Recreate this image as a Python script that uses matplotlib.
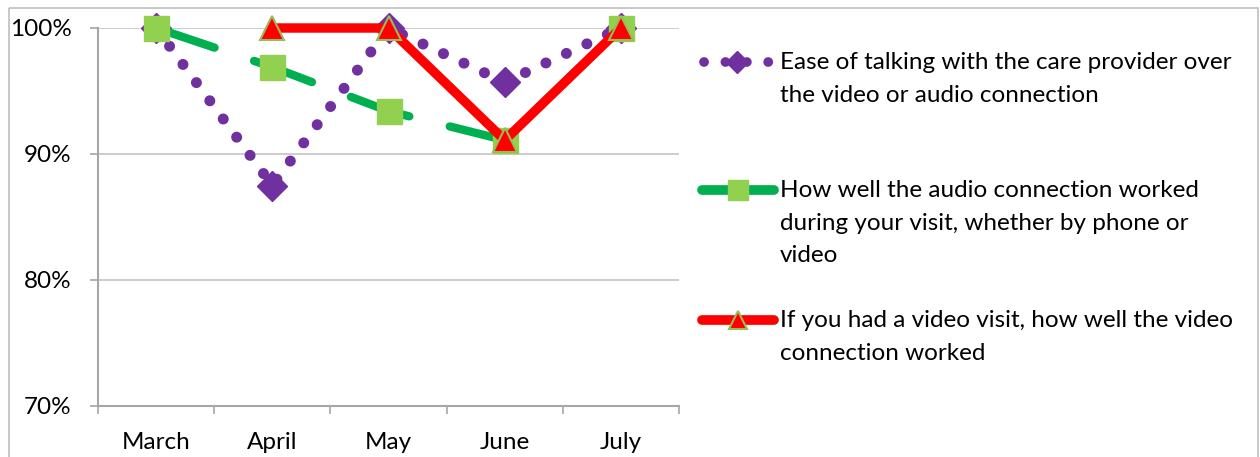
import matplotlib.pyplot as plt
from matplotlib.patches import Rectangle
from matplotlib.ticker import FixedLocator, PercentFormatter

plt.rcParams['font.family'] = ['Lato', 'DejaVu Sans']

months = ["March", "April", "May", "June", "July"]
ease = [1.00, 0.875, 1.00, 0.957, 1.00]
audio = [1.00, 0.969, 0.934, 0.911, 1.00]
video = [None, 1.00, 1.00, 0.911, 1.00]

labels = [
    "Ease of talking with the care provider over\nthe video or audio connection",
    "How well the audio connection worked\nduring your visit, whether by phone or\nvideo",
    "If you had a video visit, how well the video\nconnection worked",
]

purple = "#7030A0"
green_line = "#00B050"
green_mark = "#92D050"
red = "#FF0000"
tri_edge = "#9BBB59"
axis_gray = "#A6A6A6"
grid_gray = "#C8C8C8"

W, H = 1260, 457
fig = plt.figure(figsize=(W / 100, H / 100), dpi=100)

ax = fig.add_axes([98 / W, 1 - 406 / H, 581 / W, 378 / H])
x = list(range(len(months)))

dot_style = (0, (0.01, 2.05))
dash_style = (0, (7.4, 5.0))

ax.plot(x, ease, color=purple, lw=7.9, linestyle=dot_style,
        dash_capstyle="round", marker="D", ms=15, mfc=purple, mec=purple,
        clip_on=False, zorder=3)
ax.plot(x, audio, color=green_line, lw=6.0, linestyle=dash_style,
        dash_capstyle="round", marker="s", ms=18, mfc=green_mark, mec=green_mark,
        clip_on=False, zorder=4)
vx = [i for i, v in zip(x, video) if v is not None]
vy = [v for v in video if v is not None]
ax.plot(vx, vy, color=red, lw=6.8, solid_capstyle="butt", marker="^", ms=17,
        mfc=red, mec=tri_edge, mew=1.5, clip_on=False, zorder=5)

ax.set_xlim(-0.5, len(months) - 0.5)
ax.set_ylim(0.7, 1.0)
ax.xaxis.set_major_locator(FixedLocator([i - 0.5 for i in range(len(months) + 1)]))
ax.xaxis.set_minor_locator(FixedLocator(x))
ax.set_xticklabels([], minor=False)
ax.set_xticklabels(months, minor=True)
ax.tick_params(axis="x", which="major", length=6, width=1.2, color=axis_gray)
ax.tick_params(axis="x", which="minor", length=0, pad=18.5, labelsize=17.5)
ax.set_yticks([0.7, 0.8, 0.9, 1.0])
ax.yaxis.set_major_formatter(PercentFormatter(1.0, decimals=0))
ax.tick_params(axis="y", length=6, width=1.2, color=axis_gray, pad=13, labelsize=17.5)
ax.grid(axis="y", color=grid_gray, lw=1.3)
ax.set_axisbelow(True)
for s in ("top", "right"):
    ax.spines[s].set_visible(False)
for s in ("left", "bottom"):
    ax.spines[s].set_color(axis_gray)
    ax.spines[s].set_linewidth(1.5)

# legend drawn in pixel space on an overlay
lg = fig.add_axes([0, 0, 1, 1], facecolor="none")
lg.set_xlim(0, W)
lg.set_ylim(H, 0)
lg.axis("off")
lg.add_patch(Rectangle((9, 8), 1249, 470, fill=False, ec="#BFBFBF", lw=1.2))

rows = [62, 190, 320]
lg.plot([704, 769], [rows[0]] * 2, color=purple, lw=7.0,
        linestyle=(0, (0.01, 2.19)), dash_capstyle="round")
lg.plot([737], [rows[0]], marker="D", ms=11, color=purple)
lg.plot([702, 774], [rows[1]] * 2, color=green_line, lw=7.0, solid_capstyle="round")
lg.plot([738], [rows[1]], marker="s", ms=14, color=green_mark)
lg.plot([702, 774], [rows[2]] * 2, color=red, lw=7.0, solid_capstyle="round")
lg.plot([738], [rows[2]], marker="^", ms=13, mfc=red, mec=tri_edge, mew=1.5)
for y, t in zip(rows, labels):
    lg.text(780, y - 10, t, fontsize=17.5, va="top", ha="left", linespacing=1.68)

fig.savefig("out.png", dpi=100)
